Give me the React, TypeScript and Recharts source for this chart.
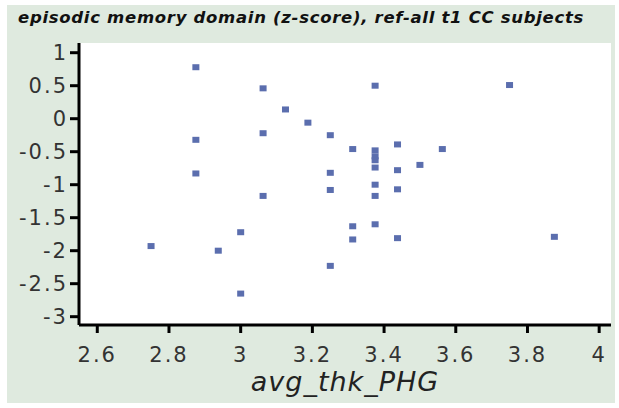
import React from "react";
import { ScatterChart, Scatter, XAxis, YAxis, CartesianGrid } from "recharts";

// avg_thk_PHG vs episodic memory z-score, one entry per subject
const thickness = [
  2.75, 2.875, 2.875, 2.875, 2.9375, 3.0, 3.0, 3.0625, 3.0625, 3.0625, 3.125, 3.1875,
  3.25, 3.25, 3.25, 3.25, 3.3125, 3.3125, 3.3125, 3.375, 3.375, 3.375, 3.375, 3.375,
  3.375, 3.375, 3.375, 3.4375, 3.4375, 3.4375, 3.4375, 3.5, 3.5625, 3.75, 3.875,
];
const memoryZ = [
  -1.93, 0.78, -0.32, -0.83, -2.0, -1.72, -2.65, 0.46, -0.22, -1.17, 0.14, -0.06,
  -0.25, -0.82, -1.08, -2.23, -0.46, -1.63, -1.83, 0.5, -0.48, -0.57, -0.63, -0.74,
  -1.0, -1.17, -1.6, -0.39, -0.78, -1.07, -1.81, -0.7, -0.46, 0.51, -1.79,
];
const xTicks = [2.6, 2.8, 3, 3.2, 3.4, 3.6, 3.8, 4];
const yTicks = [1, 0.5, 0, -0.5, -1, -1.5, -2, -2.5, -3];

const points = thickness.map((x, i) => ({ x, y: memoryZ[i] }));

const tickFont = { fontFamily: "DejaVu Sans", fontSize: 21, fill: "#333", letterSpacing: 2 };
const frame = { stroke: "#000", strokeWidth: 3 };

const Dot = (props: any) => (
  <rect x={props.cx - 3.5} y={props.cy - 3} width={7} height={6} fill="#5b6eae" />
);

export default function App() {
  return (
    <div style={{ position: "absolute", left: 0, top: 0, width: 619, height: 408, background: "#fff" }}>
      <div style={{ position: "absolute", left: 7, top: 5, width: 608, height: 398, background: "#dfeadf" }} />
      <div
        style={{
          position: "absolute",
          left: 18,
          top: 8,
          fontFamily: "DejaVu Sans",
          fontWeight: "bold",
          fontStyle: "italic",
          fontSize: 16.5,
          letterSpacing: 0.7,
          color: "#111",
          whiteSpace: "nowrap",
        }}
      >
        episodic memory domain (z-score), ref-all t1 CC subjects
      </div>
      <div style={{ position: "absolute", left: 0, top: 0 }}>
        <ScatterChart width={619} height={408} margin={{ top: 43, right: 8, left: 19, bottom: 53 }}>
          <CartesianGrid fill="#fff" horizontal={false} vertical={false} />
          <XAxis
            xAxisId="main"
            type="number"
            dataKey="x"
            domain={[2.549, 4.033]}
            ticks={xTicks}
            tick={tickFont}
            tickSize={8}
            tickMargin={14}
            tickLine={frame}
            axisLine={frame}
            height={30}
            allowDataOverflow
          />
          <XAxis
            xAxisId="top"
            orientation="top"
            type="number"
            dataKey="x"
            domain={[2.549, 4.033]}
            tick={false}
            tickLine={false}
            axisLine={frame}
            height={0}
            allowDataOverflow
          />
          <YAxis
            yAxisId="main"
            type="number"
            dataKey="y"
            domain={[-3.126, 1.147]}
            ticks={yTicks}
            tick={tickFont}
            tickSize={9}
            tickMargin={2}
            tickLine={frame}
            axisLine={frame}
            width={60}
            interval={0}
            allowDataOverflow
          />
          <YAxis
            yAxisId="right"
            orientation="right"
            type="number"
            dataKey="y"
            domain={[-3.126, 1.147]}
            tick={false}
            tickLine={false}
            axisLine={frame}
            width={0}
            allowDataOverflow
          />
          <Scatter
            xAxisId="main"
            yAxisId="main"
            data={points}
            shape={Dot}
            isAnimationActive={false}
          />
        </ScatterChart>
      </div>
      <div
        style={{
          position: "absolute",
          left: 79,
          width: 532,
          top: 372,
          lineHeight: "20px",
          textAlign: "center",
          fontFamily: "DejaVu Sans",
          fontStyle: "italic",
          fontSize: 27,
          color: "#222",
          letterSpacing: 1,
        }}
      >
        avg_thk_PHG
      </div>
    </div>
  );
}
